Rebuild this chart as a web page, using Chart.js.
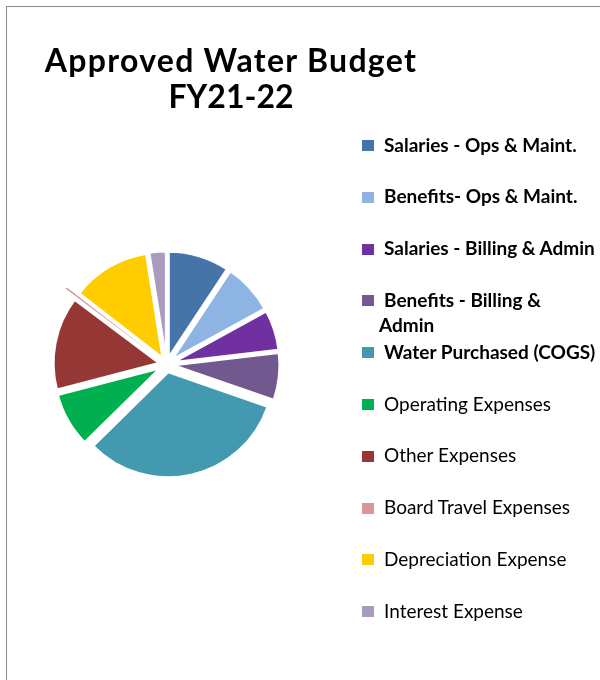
<!DOCTYPE html>
<html>
<head>
<meta charset="utf-8">
<title>Approved Water Budget FY21-22</title>
<script src="https://cdn.jsdelivr.net/npm/chart.js@4.4.0/dist/chart.umd.min.js"></script>
<style>
  body { margin: 0; background: #fff; font-family: Lato, "Noto Sans", sans-serif; }
  #wrap { position: relative; width: 600px; height: 680px; overflow: hidden; }
  #frame { position: absolute; left: 6px; top: 6px; width: 700px; height: 800px; border: 1px solid #8a8a8a; }
  #pie { position: absolute; left: 0; top: 0; }
  #title { position: absolute; left: 0; top: 42px; width: 462px; text-align: center;
           font-weight: 700; font-size: 32px; line-height: 36px; color: #000; }
  #title .l1 { letter-spacing: 1.3px; }
  .item { position: absolute; left: 379px; text-indent: 5px; font-size: 19px; line-height: 25px;
          color: #000; white-space: nowrap; }
  .box { position: absolute; left: 362px; width: 12px; height: 11px; }
</style>
</head>
<body>
<div id="wrap">
  <div id="frame"></div>
  <canvas id="pie" width="600" height="680"></canvas>
  <div id="title"><span class="l1">Approved Water Budget</span><br>FY21-22</div>
  <div id="legend"></div>
</div>
<script>
// budget share by category, % of total
const categories = [
  'Salaries - Ops & Maint.',
  'Benefits- Ops & Maint.',
  'Salaries - Billing & Admin',
  ['Benefits - Billing &', 'Admin'],
  'Water Purchased (COGS)',
  'Operating Expenses',
  'Other Expenses',
  'Board Travel Expenses',
  'Depreciation Expense',
  'Interest Expense'
];
const shares = [9.3, 7.7, 6.1, 7.2, 32.3, 8.3, 14.3, 0.25, 12.0, 2.5];

const colors = ['#4674a8', '#8eb4e3', '#7030a0', '#71588f', '#439ab0',
                '#00b050', '#953735', '#d99694', '#ffcc00', '#a99bbd'];
const explode = [8, 8, 8, 8, 8, 8, 8, 21, 8, 8];
const boldCount = 5;

// pull each slice out from the centre (Excel style exploded pie)
const explodePlugin = {
  id: 'explode',
  beforeDatasetDraw(chart, args) {
    const ctx = chart.ctx;
    args.meta.data.forEach((arc, i) => {
      const mid = (arc.startAngle + arc.endAngle) / 2;
      ctx.save();
      ctx.translate(Math.cos(mid) * explode[i], Math.sin(mid) * explode[i]);
      arc.draw(ctx);
      ctx.restore();
    });
    return false;
  }
};

new Chart(document.getElementById('pie'), {
  type: 'pie',
  data: {
    labels: categories,
    datasets: [{
      data: shares,
      backgroundColor: colors,
      borderColor: '#ffffff',
      borderWidth: colors.map((c, i) => i === 7 ? 0 : 2),
      hoverOffset: 0,
      radius: 105
    }]
  },
  options: {
    responsive: false,
    animation: false,
    layout: { padding: { left: 46, right: 313, top: 244, bottom: 195 } },
    plugins: {
      legend: { display: false },
      title: { display: false },
      tooltip: { enabled: false }
    }
  },
  plugins: [explodePlugin]
});

// legend on the right
const legend = document.getElementById('legend');
categories.forEach((label, i) => {
  const cy = 145 + i * 51.8;
  const box = document.createElement('div');
  box.className = 'box';
  box.style.top = (cy - 5) + 'px';
  box.style.background = colors[i];
  legend.appendChild(box);

  const txt = document.createElement('div');
  txt.className = 'item';
  txt.style.top = (cy - 13.5) + 'px';
  txt.style.fontWeight = i < boldCount ? '700' : '400';
  txt.innerHTML = (Array.isArray(label) ? label : [label]).join('<br>');
  legend.appendChild(txt);
});
</script>
</body>
</html>
